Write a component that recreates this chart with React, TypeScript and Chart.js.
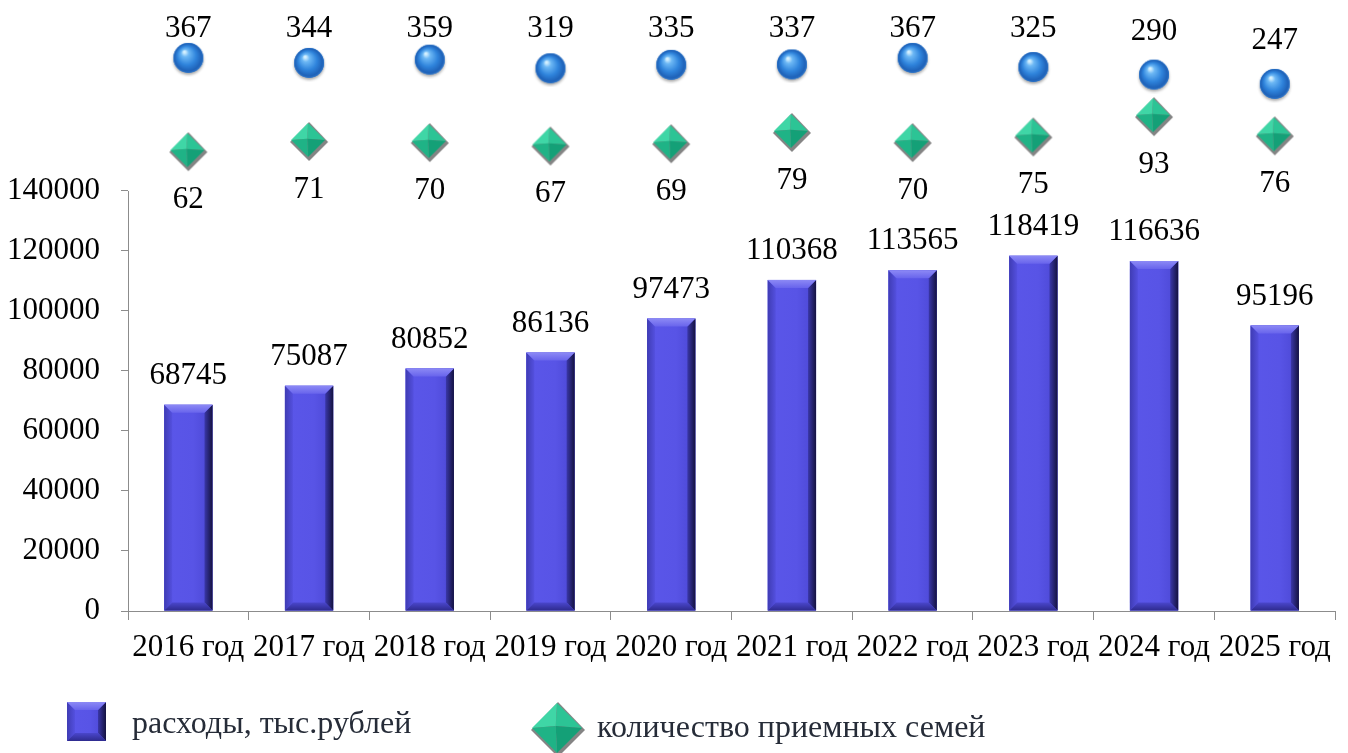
import React, { useEffect, useRef } from 'react';
import { Chart, registerables } from 'chart.js';

Chart.register(...registerables);

const categories = ['2016 год', '2017 год', '2018 год', '2019 год', '2020 год', '2021 год', '2022 год', '2023 год', '2024 год', '2025 год'];
const expenses = [68745, 75087, 80852, 86136, 97473, 110368, 113565, 118419, 116636, 95196];
const childrenCount = [367, 344, 359, 319, 335, 337, 367, 325, 290, 247];
const familiesCount = [62, 71, 70, 67, 69, 79, 70, 75, 93, 76];
const yTickValues = [0, 20000, 40000, 60000, 80000, 100000, 120000, 140000];

const seriesNames = ['расходы, тыс.рублей', 'количество приемных детей', 'количество приемных семей'];

const FONT = '"Liberation Serif", "Times New Roman", serif';
const AXIS_GRAY = '#8c8c8c';

function drawBevelRect(ctx: CanvasRenderingContext2D, x0: number, y0: number, w: number, h: number, b: number) {
  const x1 = x0 + w;
  const y1 = y0 + h;
  const bb = Math.min(b, w / 2, h / 2);
  ctx.save();
  const body = ctx.createLinearGradient(x0, 0, x1, 0);
  body.addColorStop(0, '#5a56e9');
  body.addColorStop(0.6, '#5854e6');
  body.addColorStop(1, '#4a46d2');
  ctx.fillStyle = body;
  ctx.fillRect(x0, y0, w, h);
  // left
  ctx.beginPath();
  ctx.moveTo(x0, y0); ctx.lineTo(x0 + bb, y0 + bb); ctx.lineTo(x0 + bb, y1 - bb); ctx.lineTo(x0, y1); ctx.closePath();
  const lg = ctx.createLinearGradient(x0, 0, x0 + bb, 0);
  lg.addColorStop(0, '#3f3cb4');
  lg.addColorStop(1, '#5450df');
  ctx.fillStyle = lg; ctx.fill();
  // right
  ctx.beginPath();
  ctx.moveTo(x1, y0); ctx.lineTo(x1 - bb, y0 + bb); ctx.lineTo(x1 - bb, y1 - bb); ctx.lineTo(x1, y1); ctx.closePath();
  const rg = ctx.createLinearGradient(x1 - bb, 0, x1, 0);
  rg.addColorStop(0, '#3a37a8');
  rg.addColorStop(1, '#141240');
  ctx.fillStyle = rg; ctx.fill();
  // top
  ctx.beginPath();
  ctx.moveTo(x0, y0); ctx.lineTo(x1, y0); ctx.lineTo(x1 - bb, y0 + bb); ctx.lineTo(x0 + bb, y0 + bb); ctx.closePath();
  const tg = ctx.createLinearGradient(0, y0, 0, y0 + bb);
  tg.addColorStop(0, '#8c89f5');
  tg.addColorStop(1, '#6864ec');
  ctx.fillStyle = tg; ctx.fill();
  // bottom
  ctx.beginPath();
  ctx.moveTo(x0, y1); ctx.lineTo(x1, y1); ctx.lineTo(x1 - bb, y1 - bb); ctx.lineTo(x0 + bb, y1 - bb); ctx.closePath();
  const bg = ctx.createLinearGradient(0, y1 - bb, 0, y1);
  bg.addColorStop(0, '#4a46cc');
  bg.addColorStop(1, '#2e2b8e');
  ctx.fillStyle = bg; ctx.fill();
  ctx.restore();
}

function drawDiamond(ctx: CanvasRenderingContext2D, cx: number, cy: number, r: number) {
  ctx.save();
  ctx.beginPath();
  ctx.moveTo(cx + 1, cy - r - 1); ctx.lineTo(cx + r + 3, cy + 2); ctx.lineTo(cx + 1, cy + r + 4); ctx.lineTo(cx - r - 1, cy + 2); ctx.closePath();
  ctx.fillStyle = 'rgba(110,110,110,0.85)';
  ctx.fill();
  const top = [cx, cy - r], right = [cx + r, cy], bottom = [cx, cy + r], left = [cx - r, cy];
  const c = [cx - r * 0.05, cy - r * 0.08];
  const facet = (a: number[], b: number[], col: string) => {
    ctx.beginPath(); ctx.moveTo(a[0], a[1]); ctx.lineTo(b[0], b[1]); ctx.lineTo(c[0], c[1]); ctx.closePath();
    ctx.fillStyle = col; ctx.fill();
  };
  facet(left, top, '#3fd6a6');
  facet(top, right, '#2cc495');
  facet(right, bottom, '#14a077');
  facet(bottom, left, '#1fb386');
  ctx.restore();
}

function makeSphere(): HTMLCanvasElement {
  const cv = document.createElement('canvas');
  cv.width = 38; cv.height = 38;
  const ctx = cv.getContext('2d')!;
  const cx = 19, cy = 19, r = 15;
  ctx.save();
  ctx.shadowColor = 'rgba(0,0,0,0.35)';
  ctx.shadowBlur = 3;
  ctx.shadowOffsetY = 2;
  ctx.beginPath(); ctx.arc(cx, cy, r, 0, Math.PI * 2);
  ctx.fillStyle = '#2a74cc';
  ctx.fill();
  ctx.restore();
  const g = ctx.createRadialGradient(cx - 4, cy - 6, 1, cx, cy, r);
  g.addColorStop(0, '#d4f0ff');
  g.addColorStop(0.2, '#6db8f5');
  g.addColorStop(0.6, '#2f84dc');
  g.addColorStop(0.9, '#1f62b8');
  g.addColorStop(1, '#2c74c8');
  ctx.beginPath(); ctx.arc(cx, cy, r, 0, Math.PI * 2);
  ctx.fillStyle = g; ctx.fill();
  return cv;
}

function makeDiamond(): HTMLCanvasElement {
  const cv = document.createElement('canvas');
  cv.width = 42; cv.height = 42;
  const ctx = cv.getContext('2d')!;
  drawDiamond(ctx, 20, 20, 17);
  return cv;
}

const bevelPlugin = {
  id: 'bevelBars',
  afterDatasetDraw(chart: any, args: any) {
    if (args.index !== 0) return;
    const ctx = chart.ctx as CanvasRenderingContext2D;
    args.meta.data.forEach((el: any) => {
      const p = el.getProps(['x', 'y', 'base', 'width'], true);
      drawBevelRect(ctx, p.x - p.width / 2, p.y, p.width, p.base - p.y, 8);
    });
  },
};

const axisLinePlugin = {
  id: 'yAxisLine',
  beforeDatasetsDraw(chart: any) {
    const ctx = chart.ctx as CanvasRenderingContext2D;
    const ys = chart.scales.y;
    const x = Math.round(chart.chartArea.left) + 0.5;
    ctx.save();
    ctx.strokeStyle = AXIS_GRAY;
    ctx.lineWidth = 1;
    ctx.beginPath();
    ctx.moveTo(x, ys.getPixelForValue(yTickValues[0]) + 0.5);
    ctx.lineTo(x, ys.getPixelForValue(yTickValues[yTickValues.length - 1]));
    ctx.stroke();
    ctx.restore();
  },
};

const labelsPlugin = {
  id: 'valueLabels',
  afterDatasetsDraw(chart: any) {
    const ctx = chart.ctx as CanvasRenderingContext2D;
    ctx.save();
    ctx.font = `31px ${FONT}`;
    ctx.fillStyle = '#000';
    ctx.textAlign = 'center';
    ctx.textBaseline = 'middle';
    chart.getDatasetMeta(0).data.forEach((el: any, i: number) => {
      ctx.fillText(String(expenses[i]), el.x, el.y - 29);
    });
    chart.getDatasetMeta(1).data.forEach((el: any, i: number) => {
      ctx.fillText(String(childrenCount[i]), el.x, Math.max(21, el.y - 43));
    });
    chart.getDatasetMeta(2).data.forEach((el: any, i: number) => {
      ctx.fillText(String(familiesCount[i]), el.x, el.y + 48.5);
    });
    ctx.restore();
  },
};

const legendPlugin = {
  id: 'customLegend',
  afterDraw(chart: any) {
    const ctx = chart.ctx as CanvasRenderingContext2D;
    ctx.save();
    drawBevelRect(ctx, 59, 694, 39, 39, 8);
    drawDiamond(ctx, 549, 720, 25);
    ctx.font = `32px ${FONT}`;
    ctx.fillStyle = '#262c38';
    ctx.textAlign = 'left';
    ctx.textBaseline = 'alphabetic';
    ctx.fillText(seriesNames[0], 124, 725);
    ctx.fillText(seriesNames[2], 589, 729);
    ctx.restore();
  },
};

export default function App() {
  const ref = useRef<HTMLCanvasElement | null>(null);
  useEffect(() => {
    if (!ref.current) return;
    Chart.defaults.font.family = FONT;
    const sphere = makeSphere();
    const diamond = makeDiamond();
    const chart = new Chart(ref.current, {
      type: 'bar',
      data: {
        labels: categories,
        datasets: [
          {
            type: 'bar',
            label: seriesNames[0],
            data: expenses,
            backgroundColor: '#5955e6',
            borderWidth: 0,
            barPercentage: 0.4,
            categoryPercentage: 1,
            yAxisID: 'y',
            order: 3,
          } as any,
          {
            type: 'line',
            label: seriesNames[1],
            data: childrenCount,
            yAxisID: 'y2',
            showLine: false,
            pointStyle: sphere,
            pointRadius: 15,
            clip: false,
            order: 1,
          } as any,
          {
            type: 'line',
            label: seriesNames[2],
            data: familiesCount,
            yAxisID: 'y3',
            showLine: false,
            pointStyle: diamond,
            pointRadius: 16,
            clip: false,
            order: 2,
          } as any,
        ],
      },
      options: {
        responsive: false,
        animation: false,
        events: [],
        layout: { autoPadding: false, padding: { top: 20, right: 4, left: 0, bottom: 0 } },
        plugins: { legend: { display: false }, tooltip: { enabled: false } },
        scales: {
          x: {
            grid: { display: true, drawOnChartArea: false, tickLength: 9, color: AXIS_GRAY, offset: true },
            border: { color: AXIS_GRAY },
            ticks: { font: { size: 31, family: FONT }, color: '#000', padding: 9, maxRotation: 0, autoSkip: false },
            afterFit: (s: any) => { s.height = 142; },
          },
          y: {
            min: 0,
            max: 194333,
            afterBuildTicks: (s: any) => { s.ticks = yTickValues.map((v) => ({ value: v })); },
            ticks: { font: { size: 31, family: FONT }, color: '#000', padding: 21, callback: (v: any) => String(v) },
            grid: { drawOnChartArea: false, tickLength: 7, color: AXIS_GRAY },
            border: { display: false },
            afterFit: (s: any) => { s.width = 120; s.paddingTop = 0; s.paddingBottom = 0; },
          },
          y2: { display: false, min: -2185, max: 505 },
          y3: { display: false, min: -345, max: 171 },
        },
      } as any,
      plugins: [axisLinePlugin, bevelPlugin, labelsPlugin, legendPlugin],
    });
    return () => chart.destroy();
  }, []);
  return (
    <div style={{ width: 1332, height: 745 }}>
      <canvas ref={ref} width={1332} height={745} style={{ display: 'block' }} />
    </div>
  );
}
